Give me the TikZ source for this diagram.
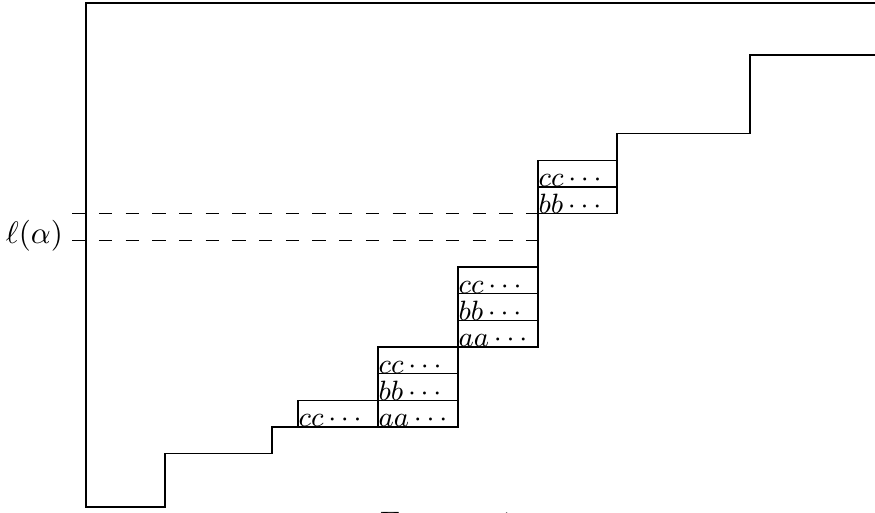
\documentclass[tikz,border=0pt]{standalone}
\usepackage{tikz}
\usetikzlibrary{positioning}
\tikzstyle{cellbox} = [draw]
\tikzstyle{celltext} = [anchor=base west, inner sep=0pt, font=\small]
\tikzstyle{levelline} = [dash pattern=on 4.3pt off 4.3pt]

\begin{document}
\begin{tikzpicture}[x=0.3223pt, y=-0.3223pt]
  \useasboundingbox (0,0) rectangle (875,513);

  % staircase outline
  \draw (875,3) -- (86,3) -- (86,507) -- (165,507) -- (165,453.7) -- (272,453.7)
    -- (272,427) -- (458,427) -- (458,347) -- (538,347) -- (538,213.7)
    -- (617,213.7) -- (617,133.7) -- (750,133.7) -- (750,55) -- (875,55);

  % boxes
  \draw[cellbox] (298,400.3) rectangle (378,427);
  \draw[cellbox] (378,400.3) rectangle (458,427);
  \draw[cellbox] (378,373.7) rectangle (458,400.3);
  \draw[cellbox] (378,347) rectangle (458,373.7);
  \draw[cellbox] (458,320.3) rectangle (538,347);
  \draw[cellbox] (458,293.7) rectangle (538,320.3);
  \draw[cellbox] (458,267) rectangle (538,293.7);
  \draw[cellbox] (538,187) rectangle (617,213.7);
  \draw[cellbox] (538,160.3) rectangle (617,187);

  \node[celltext] (c1) at (298,427) {$cc\cdots$};
  \node[celltext] (a2) at (378,427) {$aa\cdots$};
  \node[celltext] (b2) at (378,400.3) {$bb\cdots$};
  \node[celltext] (c2) at (378,373.7) {$cc\cdots$};
  \node[celltext] (a3) at (458,347) {$aa\cdots$};
  \node[celltext] (b3) at (458,320.3) {$bb\cdots$};
  \node[celltext] (c3) at (458,293.7) {$cc\cdots$};
  \node[celltext] (b4) at (538,213.7) {$bb\cdots$};
  \node[celltext] (c4) at (538,187) {$cc\cdots$};

  % level of alpha
  \coordinate (upA) at (72.3,213.7);
  \coordinate (upB) at (538,213.7);
  \coordinate (loA) at (72.3,240.3);
  \coordinate (loB) at (538,240.3);
  \draw[levelline] (upA) -- (upB);
  \draw[levelline] (loA) -- (loB);
  \node[anchor=base east, inner sep=0pt] (ell) at (63.5,244) {$\ell(\alpha)$};

  \node[anchor=north west, inner sep=0pt] (caption) at (378.7,511.3) {\textsc{Figure 1}};
\end{tikzpicture}
\end{document}
